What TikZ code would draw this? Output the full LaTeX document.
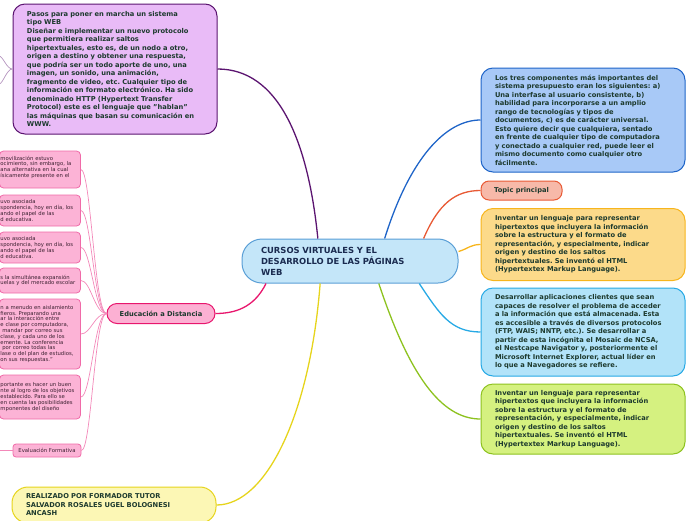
\documentclass[tikz,border=0pt]{standalone}
\usepackage{fontspec}
\setmainfont{DejaVu Sans}
\usepackage{tikz}
\frenchspacing
\definecolor{inkgreen}{HTML}{1D3A2E}
\definecolor{centtext}{HTML}{1A2B50}
\definecolor{centfill}{HTML}{C4E6F9}
\definecolor{centline}{HTML}{5A9FD6}
\definecolor{purpfill}{HTML}{E9BBF7}
\definecolor{purpline}{HTML}{5B1470}
\definecolor{bluefill}{HTML}{A8C9F7}
\definecolor{blueline}{HTML}{1E64C8}
\definecolor{redfill}{HTML}{F7B9A9}
\definecolor{redline}{HTML}{E85A35}
\definecolor{orfill}{HTML}{FCDA8A}
\definecolor{orline}{HTML}{F7B51D}
\definecolor{skyfill}{HTML}{B2E3F9}
\definecolor{skyline}{HTML}{27A9E5}
\definecolor{grfill}{HTML}{D5F180}
\definecolor{grline}{HTML}{8DC21F}
\definecolor{yelfill}{HTML}{FCF7B5}
\definecolor{yelline}{HTML}{E6D41C}
\definecolor{edufill}{HTML}{FCB0D3}
\definecolor{eduline}{HTML}{E8166D}
\definecolor{kidfill}{HTML}{FCB3D6}
\definecolor{kidline}{HTML}{F06AA8}
\definecolor{kidtext}{HTML}{3B2030}

\begin{document}
\begin{tikzpicture}[x=1pt,y=-1pt,
  box/.style={rounded corners=12pt,line width=1pt,align=left,inner xsep=14pt,inner ysep=0pt,
    text width=176pt,text=inkgreen,font=\fontsize{6.7}{8.5}\selectfont\bfseries},
  kid/.style={rounded corners=4pt,line width=0.8pt,draw=kidline,fill=kidfill,align=left,
    inner xsep=1pt,inner ysep=0pt,text width=79pt,text=kidtext,font=\fontsize{5.3}{5.8}\selectfont},
  link/.style={line width=1.3pt},
  kidlink/.style={draw=kidline!80,line width=0.7pt}]
  \useasboundingbox (0,0) rectangle (696,520);
  \clip (0,0) rectangle (696,520);

  % central topic
  \node[box,draw=centline,fill=centfill,text=centtext,rounded corners=20pt,text width=178pt,
    inner xsep=19pt,minimum height=44pt,font=\fontsize{8.4}{11}\selectfont\bfseries]
    (central) at (350,261) {CURSOS VIRTUALES Y EL\\DESARROLLO DE LAS PÁGINAS\\WEB};

  % main branches
  \node[box,draw=purpline,fill=purpfill,minimum height=130pt] (pasos) at (115,69)
    {Pasos para poner en marcha un sistema\\tipo WEB\\Diseñar e implementar un nuevo protocolo\\
     que permitiera realizar saltos\\hipertextuales, esto es, de un nodo a otro,\\
     origen a destino y obtener una respuesta,\\que podría ser un todo aporte de uno, una\\
     imagen, un sonido, una animación,\\fragmento de video, etc. Cualquier tipo de\\
     información en formato electrónico. Ha sido\\denominado HTTP (Hypertext Transfer\\
     Protocol) este es el lenguaje que "hablan"\\las máquinas que basan su comunicación en\\WWW.};
  \node[box,draw=blueline,fill=bluefill,minimum height=104pt] (comps) at (583,120)
    {Los tres componentes más importantes del\\sistema presupuesto eran los siguientes: a)\\
     Una interfase al usuario consistente, b)\\habilidad para incorporarse a un amplio\\
     rango de tecnologías y tipos de\\documentos, c) es de carácter universal.\\
     Esto quiere decir que cualquiera, sentado\\en frente de cualquier tipo de computadora\\
     y conectado a cualquier red, puede leer el\\mismo documento como cualquier otro\\fácilmente.};
  \node[box,draw=redline,fill=redfill,text width={},inner xsep=11pt,minimum width=81pt,
    minimum height=19pt,rounded corners=8pt,align=center] (topic) at (521.5,190.5) {Topic principal};
  \node[box,draw=orline,fill=orfill,minimum height=72pt] (lenguaje) at (583,244.5)
    {Inventar un lenguaje para representar\\hipertextos que incluyera la información\\
     sobre la estructura y el formato de\\representación, y especialmente, indicar\\
     origen y destino de los saltos\\hipertextuales. Se inventó el HTML\\(Hypertextex Markup Language).};
  \node[box,draw=skyline,fill=skyfill,minimum height=88pt] (clientes) at (583,332)
    {Desarrollar aplicaciones clientes que sean\\capaces de resolver el problema de acceder\\
     a la información que está almacenada. Esta\\es accesible a través de diversos protocolos\\
     (FTP, WAIS; NNTP, etc.). Se desarrollar a\\partir de esta incógnita el Mosaic de NCSA,\\
     el Nestcape Navigator y, posteriormente el\\Microsoft Internet Explorer, actual líder en\\
     lo que a Navegadores se refiere.};
  \node[box,draw=grline,fill=grfill,minimum height=70pt] (html) at (583,419)
    {Inventar un lenguaje para representar\\hipertextos que incluyera la información\\
     sobre la estructura y el formato de\\representación, y especialmente, indicar\\
     origen y destino de los saltos\\hipertextuales. Se inventó el HTML\\(Hypertextex Markup Language).};
  \node[box,draw=yelline,fill=yelfill,minimum height=36pt,rounded corners=16pt] (autor) at (114,505)
    {REALIZADO POR FORMADOR TUTOR\\SALVADOR ROSALES UGEL BOLOGNESI\\ANCASH};
  \node[box,draw=eduline,fill=edufill,text width={},inner xsep=10pt,minimum width=108pt,
    minimum height=20pt,rounded corners=10pt,align=center] (edu) at (161,313.5) {Educación a Distancia};

  % subtopics of Educacion a Distancia
  \node[kid,minimum height=37pt] (k1) at (40,169.5)
    {movilización estuvo\\ocimiento, sin embargo, la\\ana alternativa en la cual\\ísicamente presente en el\\~};
  \node[kid,minimum height=31pt] (k2) at (40,210.5)
    {uvo asociada\\spondencia, hoy en día, los\\ando el papel de las\\d educativa.};
  \node[kid,minimum height=31pt] (k3) at (40,247.5)
    {uvo asociada\\spondencia, hoy en día, los\\ando el papel de las\\d educativa.};
  \node[kid,minimum height=25pt] (k4) at (40,280.5)
    {s la simultánea expansión\\uelas y del mercado escolar};
  \node[kid,minimum height=70pt] (k5) at (40,334)
    {n a menudo en aislamiento\\fieros. Preparando una\\ar la interacción entre\\
     e clase por computadora,\\\ mandar por correo sus\\clase, y cada uno de los\\
     emente. La conferencia\\\ por correo todas las\\lase o del plan de estudios,\\on sus respuestas."};
  \node[kid,minimum height=44pt] (k6) at (40,397)
    {portante es hacer un buen\\nte al logro de los objetivos\\establecido. Para ello se\\
     en cuenta las posibilidades\\mponentes del diseño};
  \node[kid,text width={},align=center,minimum width=68pt,minimum height=13pt,rounded corners=3pt]
    (evalua) at (47,450.5) {Evaluación Formativa};

  \coordinate (pasosup) at (-1,56);
  \coordinate (pasosdn) at (-1,84);
  \coordinate (evalout) at (-1,450.5);

  % connectors
  \draw[link,purpline] (central.145.5) .. controls +(-10,-100) and +(60,0) .. (pasos.east);
  \draw[link,blueline] (central.33.7) .. controls +(25,-80) and +(-35,0) .. (comps.west);
  \draw[link,redline] (central.17.4) .. controls +(15,-35) and +(-25,0) .. (topic.west);
  \draw[link,orline] (central.5.8) .. controls +(10,-3) and +(-10,0) .. (lenguaje.west);
  \draw[link,skyline] (central.-18.7) .. controls +(20,30) and +(-30,0) .. (clientes.west);
  \draw[link,grline] (central.-38.2) .. controls +(30,90) and +(-40,0) .. (html.west);
  \draw[link,yelline] (central.-143.7) .. controls +(-10,130) and +(50,0) .. (autor.east);
  \draw[link,eduline] (central.-165.8) .. controls +(-10,20) and +(25,0) .. (edu.east);
  \foreach \k in {k1,k2,k3,k4,k5,k6,evalua}
    \draw[kidlink] (edu.west) .. controls +(-12,0) and +(10,0) .. (\k.east);
  \draw[kidlink] (evalua.west) -- (evalout);
  \draw[purpline!45,line width=0.7pt] (pasos.west) .. controls +(-6,0) and +(4,0) .. (pasosup);
  \draw[purpline!45,line width=0.7pt] (pasos.west) .. controls +(-6,0) and +(4,0) .. (pasosdn);
\end{tikzpicture}
\end{document}
